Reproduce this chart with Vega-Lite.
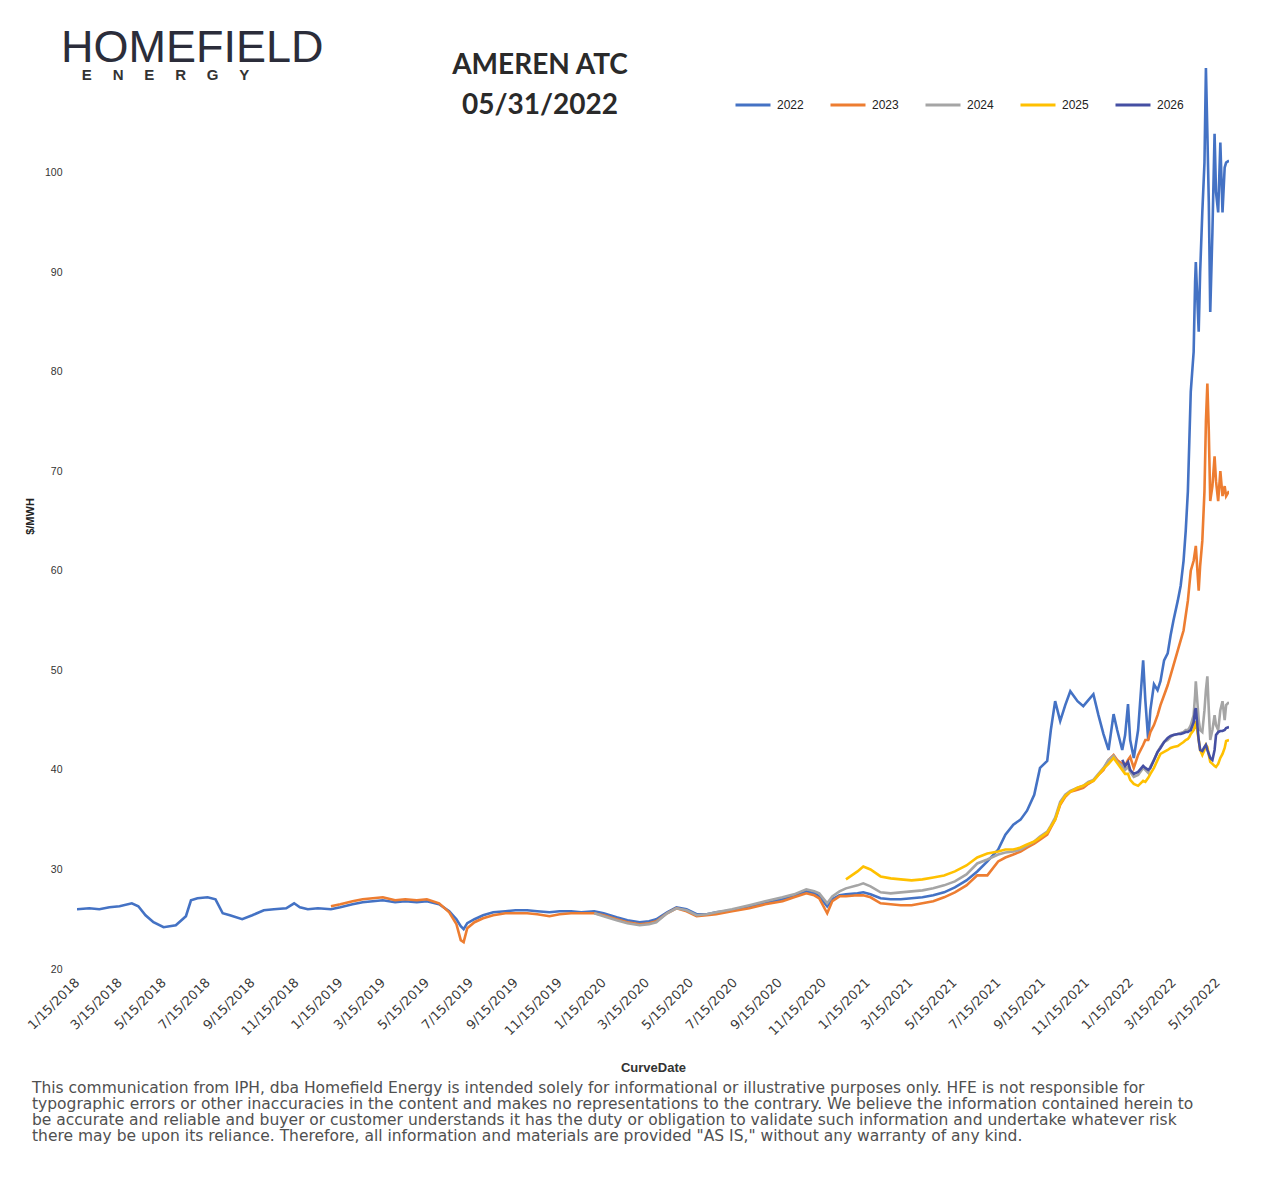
{
  "$schema": "https://vega.github.io/schema/vega-lite/v6.json",
  "padding": {"left": 24, "top": 26, "right": 10, "bottom": 10},
  "background": "white",
  "config": {"view": {"stroke": null}, "font": "Liberation Sans"},
  "title": {
    "text": "HOMEFIELD",
    "subtitle": "\u200b\u00a0\u00a0\u00a0\u00a0\u00a0E\u00a0\u00a0\u00a0\u00a0\u00a0N\u00a0\u00a0\u00a0\u00a0\u00a0E\u00a0\u00a0\u00a0\u00a0\u00a0R\u00a0\u00a0\u00a0\u00a0\u00a0G\u00a0\u00a0\u00a0\u00a0\u00a0Y",
    "anchor": "start",
    "frame": "group",
    "offset": -31.5,
    "fontSize": 45,
    "fontWeight": "normal",
    "font": "Liberation Sans",
    "color": "#2b2d3a",
    "subtitleFont": "Liberation Sans",
    "subtitleFontSize": 15,
    "subtitleFontWeight": "bold",
    "subtitleColor": "#333333",
    "subtitlePadding": -3,
    "dx": -16
  },
  "spacing": 5,
  "vconcat": [
    {
      "width": 1152,
      "height": 906,
      "title": {
        "text": ["AMEREN ATC", "05/31/2022"],
        "anchor": "middle",
        "frame": "group",
        "dx": -113,
        "offset": -78.5,
        "baseline": "alphabetic",
        "lineHeight": 40,
        "fontSize": 28,
        "font": "Lato",
        "fontWeight": "bold",
        "color": "#2a2a2a"
      },
      "data": {
        "values": [
          {"d": "2018/01/15", "2022": 26.0},
          {"d": "2018/02/01", "2022": 26.1},
          {"d": "2018/02/15", "2022": 26.0},
          {"d": "2018/03/01", "2022": 26.2},
          {"d": "2018/03/15", "2022": 26.3},
          {"d": "2018/04/01", "2022": 26.6},
          {"d": "2018/04/10", "2022": 26.3},
          {"d": "2018/04/20", "2022": 25.4},
          {"d": "2018/05/01", "2022": 24.7},
          {"d": "2018/05/15", "2022": 24.2},
          {"d": "2018/06/01", "2022": 24.4},
          {"d": "2018/06/15", "2022": 25.3},
          {"d": "2018/06/22", "2022": 26.9},
          {"d": "2018/07/01", "2022": 27.1},
          {"d": "2018/07/15", "2022": 27.2},
          {"d": "2018/07/26", "2022": 27.0},
          {"d": "2018/08/05", "2022": 25.6},
          {"d": "2018/08/15", "2022": 25.4},
          {"d": "2018/09/01", "2022": 25.0},
          {"d": "2018/09/15", "2022": 25.4},
          {"d": "2018/10/01", "2022": 25.9},
          {"d": "2018/10/15", "2022": 26.0},
          {"d": "2018/11/01", "2022": 26.1},
          {"d": "2018/11/12", "2022": 26.6},
          {"d": "2018/11/20", "2022": 26.2},
          {"d": "2018/12/01", "2022": 26.0},
          {"d": "2018/12/15", "2022": 26.1},
          {"d": "2019/01/02", "2022": 26.0, "2023": 26.3},
          {"d": "2019/01/15", "2022": 26.2, "2023": 26.5},
          {"d": "2019/02/01", "2022": 26.5, "2023": 26.8},
          {"d": "2019/02/15", "2022": 26.7, "2023": 27.0},
          {"d": "2019/03/01", "2022": 26.8, "2023": 27.1},
          {"d": "2019/03/15", "2022": 26.9, "2023": 27.2},
          {"d": "2019/04/01", "2022": 26.7, "2023": 26.9},
          {"d": "2019/04/15", "2022": 26.8, "2023": 27.0},
          {"d": "2019/05/01", "2022": 26.7, "2023": 26.9},
          {"d": "2019/05/15", "2022": 26.8, "2023": 27.0},
          {"d": "2019/06/01", "2022": 26.5, "2023": 26.6},
          {"d": "2019/06/15", "2022": 25.8, "2023": 25.7},
          {"d": "2019/06/25", "2022": 25.0, "2023": 24.5},
          {"d": "2019/07/01", "2022": 24.3, "2023": 22.9},
          {"d": "2019/07/05", "2022": 24.0, "2023": 22.7},
          {"d": "2019/07/10", "2022": 24.6, "2023": 24.1},
          {"d": "2019/07/20", "2022": 25.0, "2023": 24.7},
          {"d": "2019/08/01", "2022": 25.4, "2023": 25.1},
          {"d": "2019/08/15", "2022": 25.7, "2023": 25.4},
          {"d": "2019/09/01", "2022": 25.8, "2023": 25.6},
          {"d": "2019/09/15", "2022": 25.9, "2023": 25.6},
          {"d": "2019/10/01", "2022": 25.9, "2023": 25.6},
          {"d": "2019/10/15", "2022": 25.8, "2023": 25.5},
          {"d": "2019/11/01", "2022": 25.7, "2023": 25.3},
          {"d": "2019/11/15", "2022": 25.8, "2023": 25.5},
          {"d": "2019/12/01", "2022": 25.8, "2023": 25.6},
          {"d": "2019/12/15", "2022": 25.7, "2023": 25.6},
          {"d": "2020/01/02", "2022": 25.8, "2023": 25.6, "2024": 25.6},
          {"d": "2020/01/15", "2022": 25.6, "2023": 25.4, "2024": 25.3},
          {"d": "2020/02/02", "2022": 25.2, "2023": 25.0, "2024": 24.9},
          {"d": "2020/02/17", "2022": 24.9, "2023": 24.7, "2024": 24.6},
          {"d": "2020/03/05", "2022": 24.7, "2023": 24.5, "2024": 24.4},
          {"d": "2020/03/18", "2022": 24.8, "2023": 24.6, "2024": 24.5},
          {"d": "2020/03/28", "2022": 25.0, "2023": 24.8, "2024": 24.7},
          {"d": "2020/04/12", "2022": 25.7, "2023": 25.6, "2024": 25.6},
          {"d": "2020/04/25", "2022": 26.2, "2023": 26.1, "2024": 26.1},
          {"d": "2020/05/09", "2022": 26.0, "2023": 25.8, "2024": 25.9},
          {"d": "2020/05/23", "2022": 25.5, "2023": 25.3, "2024": 25.4},
          {"d": "2020/06/06", "2022": 25.5, "2023": 25.4, "2024": 25.5},
          {"d": "2020/06/19", "2022": 25.7, "2023": 25.5, "2024": 25.7},
          {"d": "2020/07/11", "2022": 25.9, "2023": 25.8, "2024": 26.0},
          {"d": "2020/08/04", "2022": 26.3, "2023": 26.1, "2024": 26.4},
          {"d": "2020/08/26", "2022": 26.6, "2023": 26.5, "2024": 26.8},
          {"d": "2020/09/19", "2022": 27.0, "2023": 26.8, "2024": 27.2},
          {"d": "2020/10/05", "2022": 27.3, "2023": 27.2, "2024": 27.5},
          {"d": "2020/10/22", "2022": 27.8, "2023": 27.6, "2024": 28.0},
          {"d": "2020/11/02", "2022": 27.6, "2023": 27.4, "2024": 27.8},
          {"d": "2020/11/09", "2022": 27.3, "2023": 27.1, "2024": 27.6},
          {"d": "2020/11/20", "2022": 26.3, "2023": 25.6, "2024": 26.6},
          {"d": "2020/11/27", "2022": 27.0, "2023": 26.8, "2024": 27.3},
          {"d": "2020/12/07", "2022": 27.4, "2023": 27.3, "2024": 27.8},
          {"d": "2020/12/16", "2022": 27.5, "2023": 27.3, "2024": 28.1, "2025": 29.0},
          {"d": "2021/01/01", "2022": 27.6, "2023": 27.4, "2024": 28.4, "2025": 29.8},
          {"d": "2021/01/09", "2022": 27.7, "2023": 27.4, "2024": 28.6, "2025": 30.3},
          {"d": "2021/01/19", "2022": 27.5, "2023": 27.2, "2024": 28.3, "2025": 30.0},
          {"d": "2021/02/02", "2022": 27.1, "2023": 26.6, "2024": 27.7, "2025": 29.3},
          {"d": "2021/02/16", "2022": 27.0, "2023": 26.5, "2024": 27.6, "2025": 29.1},
          {"d": "2021/03/02", "2022": 27.0, "2023": 26.4, "2024": 27.7, "2025": 29.0},
          {"d": "2021/03/17", "2022": 27.1, "2023": 26.4, "2024": 27.8, "2025": 28.9},
          {"d": "2021/04/01", "2022": 27.2, "2023": 26.6, "2024": 27.9, "2025": 29.0},
          {"d": "2021/04/16", "2022": 27.4, "2023": 26.8, "2024": 28.1, "2025": 29.2},
          {"d": "2021/05/01", "2022": 27.7, "2023": 27.2, "2024": 28.4, "2025": 29.4},
          {"d": "2021/05/16", "2022": 28.2, "2023": 27.7, "2024": 28.8, "2025": 29.8},
          {"d": "2021/06/01", "2022": 28.9, "2023": 28.4, "2024": 29.5, "2025": 30.4},
          {"d": "2021/06/16", "2022": 29.8, "2023": 29.4, "2024": 30.6, "2025": 31.2},
          {"d": "2021/06/30", "2022": 30.8, "2023": 29.4, "2024": 31.0, "2025": 31.6},
          {"d": "2021/07/15", "2022": 32.0, "2023": 30.8, "2024": 31.5, "2025": 31.8},
          {"d": "2021/07/25", "2022": 33.5, "2023": 31.2, "2024": 31.7, "2025": 32.0},
          {"d": "2021/08/05", "2022": 34.5, "2023": 31.5, "2024": 31.8, "2025": 32.0},
          {"d": "2021/08/15", "2022": 35.0, "2023": 31.8, "2024": 32.0, "2025": 32.2},
          {"d": "2021/08/24", "2022": 35.9, "2023": 32.2, "2024": 32.4, "2025": 32.5},
          {"d": "2021/09/03", "2022": 37.5, "2023": 32.6, "2024": 32.8, "2025": 32.8},
          {"d": "2021/09/11", "2022": 40.2, "2023": 33.0, "2024": 33.3, "2025": 33.2},
          {"d": "2021/09/21", "2022": 40.9, "2023": 33.5, "2024": 33.8, "2025": 33.7},
          {"d": "2021/09/26", "2022": 44.0, "2023": 34.2, "2024": 34.4, "2025": 34.3},
          {"d": "2021/10/02", "2022": 46.9, "2023": 35.0, "2024": 35.2, "2025": 35.0},
          {"d": "2021/10/09", "2022": 44.9, "2023": 36.5, "2024": 36.8, "2025": 36.6},
          {"d": "2021/10/16", "2022": 46.5, "2023": 37.3, "2024": 37.5, "2025": 37.4},
          {"d": "2021/10/23", "2022": 47.9, "2023": 37.8, "2024": 37.9, "2025": 37.8},
          {"d": "2021/11/02", "2022": 46.9, "2023": 38.0, "2024": 38.2, "2025": 38.2},
          {"d": "2021/11/10", "2022": 46.4, "2023": 38.2, "2024": 38.4, "2025": 38.4},
          {"d": "2021/11/17", "2022": 47.0, "2023": 38.6, "2024": 38.8, "2025": 38.7},
          {"d": "2021/11/24", "2022": 47.6, "2023": 38.9, "2024": 39.0, "2025": 38.9},
          {"d": "2021/12/01", "2022": 45.5, "2023": 39.5, "2024": 39.6, "2025": 39.5},
          {"d": "2021/12/08", "2022": 43.6, "2023": 40.0, "2024": 40.2, "2025": 40.1},
          {"d": "2021/12/15", "2022": 42.0, "2023": 41.0, "2024": 41.0, "2025": 40.6},
          {"d": "2021/12/22", "2022": 45.6, "2023": 41.5, "2024": 41.4, "2025": 41.2},
          {"d": "2021/12/27", "2022": 44.0, "2023": 41.0, "2024": 40.8, "2025": 40.7},
          {"d": "2022/01/03", "2022": 42.0, "2023": 40.6, "2024": 40.4, "2025": 40.0, "2026": 41.0},
          {"d": "2022/01/07", "2022": 43.5, "2023": 40.4, "2024": 40.0, "2025": 39.6, "2026": 40.4},
          {"d": "2022/01/11", "2022": 46.6, "2023": 41.0, "2024": 40.3, "2025": 39.6, "2026": 40.8},
          {"d": "2022/01/14", "2022": 43.0, "2023": 41.3, "2024": 39.8, "2025": 39.0, "2026": 40.0},
          {"d": "2022/01/19", "2022": 41.2, "2023": 40.2, "2024": 39.3, "2025": 38.6, "2026": 39.6},
          {"d": "2022/01/25", "2022": 44.0, "2023": 41.5, "2024": 39.5, "2025": 38.4, "2026": 39.8},
          {"d": "2022/02/01", "2022": 51.0, "2023": 42.5, "2024": 40.2, "2025": 38.9, "2026": 40.4},
          {"d": "2022/02/04", "2022": 47.0, "2023": 43.0, "2024": 40.0, "2025": 38.8, "2026": 40.2},
          {"d": "2022/02/08", "2022": 43.0, "2023": 43.0, "2024": 39.7, "2025": 39.2, "2026": 40.0},
          {"d": "2022/02/11", "2022": 46.0, "2023": 43.8, "2024": 40.3, "2025": 39.6, "2026": 40.2},
          {"d": "2022/02/16", "2022": 48.6, "2023": 44.5, "2024": 41.0, "2025": 40.2, "2026": 41.0},
          {"d": "2022/02/21", "2022": 48.0, "2023": 45.5, "2024": 41.8, "2025": 41.0, "2026": 41.8},
          {"d": "2022/02/25", "2022": 48.9, "2023": 46.5, "2024": 42.3, "2025": 41.6, "2026": 42.2},
          {"d": "2022/03/02", "2022": 51.0, "2023": 47.5, "2024": 42.8, "2025": 41.8, "2026": 42.8},
          {"d": "2022/03/07", "2022": 51.7, "2023": 48.5, "2024": 43.0, "2025": 42.0, "2026": 43.2},
          {"d": "2022/03/11", "2022": 53.5, "2023": 49.5, "2024": 43.3, "2025": 42.2, "2026": 43.4},
          {"d": "2022/03/15", "2022": 55.0, "2023": 50.5, "2024": 43.5, "2025": 42.3, "2026": 43.5},
          {"d": "2022/03/21", "2022": 57.0, "2023": 52.0, "2024": 43.6, "2025": 42.4, "2026": 43.6},
          {"d": "2022/03/25", "2022": 58.5, "2023": 53.0, "2024": 43.7, "2025": 42.6, "2026": 43.6},
          {"d": "2022/03/29", "2022": 61.0, "2023": 54.0, "2024": 43.8, "2025": 42.8, "2026": 43.7},
          {"d": "2022/04/01", "2022": 64.0, "2023": 55.5, "2024": 44.0, "2025": 43.0, "2026": 43.8},
          {"d": "2022/04/04", "2022": 68.0, "2023": 57.0, "2024": 44.0, "2025": 43.1, "2026": 43.8},
          {"d": "2022/04/06", "2022": 73.0, "2023": 58.5, "2024": 44.2, "2025": 43.3, "2026": 43.9},
          {"d": "2022/04/08", "2022": 78.0, "2023": 60.0, "2024": 44.5, "2025": 43.6, "2026": 44.0},
          {"d": "2022/04/12", "2022": 82.0, "2023": 61.0, "2024": 45.5, "2025": 44.0, "2026": 44.8},
          {"d": "2022/04/14", "2022": 89.0, "2023": 62.0, "2024": 47.5, "2025": 44.5, "2026": 46.0},
          {"d": "2022/04/15", "2022": 91.0, "2023": 62.5, "2024": 48.9, "2025": 44.9, "2026": 46.2},
          {"d": "2022/04/19", "2022": 84.0, "2023": 58.0, "2024": 45.0, "2025": 43.0, "2026": 43.0},
          {"d": "2022/04/21", "2022": 90.0, "2023": 60.5, "2024": 44.0, "2025": 42.0, "2026": 42.0},
          {"d": "2022/04/24", "2022": 96.0, "2023": 63.0, "2024": 43.8, "2025": 41.5, "2026": 41.9},
          {"d": "2022/04/27", "2022": 101.0, "2023": 68.0, "2024": 46.0, "2025": 42.0, "2026": 42.3},
          {"d": "2022/04/29", "2022": 110.5, "2023": 75.0, "2024": 48.0, "2025": 42.5, "2026": 42.5},
          {"d": "2022/05/01", "2022": 104.0, "2023": 78.8, "2024": 49.4, "2025": 42.3, "2026": 42.0},
          {"d": "2022/05/03", "2022": 97.0, "2023": 74.0, "2024": 46.0, "2025": 41.5, "2026": 41.6},
          {"d": "2022/05/05", "2022": 86.0, "2023": 67.0, "2024": 43.0, "2025": 40.8, "2026": 41.2},
          {"d": "2022/05/08", "2022": 94.0, "2023": 68.5, "2024": 44.0, "2025": 40.6, "2026": 41.0},
          {"d": "2022/05/11", "2022": 103.9, "2023": 71.5, "2024": 45.5, "2025": 40.4, "2026": 42.0},
          {"d": "2022/05/13", "2022": 98.0, "2023": 69.0, "2024": 44.5, "2025": 40.3, "2026": 43.5},
          {"d": "2022/05/16", "2022": 96.0, "2023": 67.0, "2024": 44.0, "2025": 40.6, "2026": 43.8},
          {"d": "2022/05/19", "2022": 103.0, "2023": 70.0, "2024": 46.0, "2025": 41.2, "2026": 43.9},
          {"d": "2022/05/22", "2022": 96.0, "2023": 67.5, "2024": 46.9, "2025": 41.6, "2026": 43.9},
          {"d": "2022/05/25", "2022": 100.5, "2023": 68.5, "2024": 45.0, "2025": 42.2, "2026": 44.0},
          {"d": "2022/05/27", "2022": 101.0, "2023": 67.5, "2024": 46.5, "2025": 42.9, "2026": 44.2},
          {"d": "2022/05/31", "2022": 101.2, "2023": 68.0, "2024": 46.8, "2025": 43.0, "2026": 44.3}
        ]
      },
      "transform": [
        {"fold": ["2022", "2023", "2024", "2025", "2026"], "as": ["series", "price"]},
        {"filter": "isValid(datum.price)"}
      ],
      "mark": {"type": "line", "strokeWidth": 2.6, "clip": true},
      "encoding": {
        "x": {
          "field": "d",
          "type": "temporal",
          "title": "CurveDate",
          "scale": {"domain": [{"year": 2018, "month": 1, "date": 15}, {"year": 2022, "month": 5, "date": 31}]},
          "axis": {
            "values": [
              {"year": 2018, "month": 1, "date": 15}, {"year": 2018, "month": 3, "date": 15}, {"year": 2018, "month": 5, "date": 15},
              {"year": 2018, "month": 7, "date": 15}, {"year": 2018, "month": 9, "date": 15}, {"year": 2018, "month": 11, "date": 15},
              {"year": 2019, "month": 1, "date": 15}, {"year": 2019, "month": 3, "date": 15}, {"year": 2019, "month": 5, "date": 15},
              {"year": 2019, "month": 7, "date": 15}, {"year": 2019, "month": 9, "date": 15}, {"year": 2019, "month": 11, "date": 15},
              {"year": 2020, "month": 1, "date": 15}, {"year": 2020, "month": 3, "date": 15}, {"year": 2020, "month": 5, "date": 15},
              {"year": 2020, "month": 7, "date": 15}, {"year": 2020, "month": 9, "date": 15}, {"year": 2020, "month": 11, "date": 15},
              {"year": 2021, "month": 1, "date": 15}, {"year": 2021, "month": 3, "date": 15}, {"year": 2021, "month": 5, "date": 15},
              {"year": 2021, "month": 7, "date": 15}, {"year": 2021, "month": 9, "date": 15}, {"year": 2021, "month": 11, "date": 15},
              {"year": 2022, "month": 1, "date": 15}, {"year": 2022, "month": 3, "date": 15}, {"year": 2022, "month": 5, "date": 15}
            ],
            "format": "%-m/%-d/%Y",
            "labelAngle": -45,
            "labelAlign": "right",
            "labelBaseline": "middle",
            "labelPadding": 11,
            "labelFont": "DejaVu Sans",
            "labelFontSize": 13,
            "labelColor": "#3a3a3a",
            "labelOverlap": false,
            "labelFlush": false,
            "labelBound": false,
            "ticks": false,
            "domain": false,
            "grid": false,
            "titleFontSize": 13,
            "titleFontWeight": "bold",
            "titleColor": "#333333",
            "titlePadding": 24
          }
        },
        "y": {
          "field": "price",
          "type": "quantitative",
          "title": "$/MWH",
          "scale": {"domain": [20, 111], "nice": false, "zero": false},
          "axis": {
            "values": [20, 30, 40, 50, 60, 70, 80, 90, 100],
            "ticks": false,
            "domain": false,
            "grid": false,
            "labelFontSize": 10.5,
            "labelColor": "#333333",
            "labelPadding": 15,
            "titleFontSize": 11,
            "titleFontWeight": "bold",
            "titleColor": "#222222",
            "titlePadding": 9
          }
        },
        "color": {
          "field": "series",
          "type": "nominal",
          "scale": {"domain": ["2022", "2023", "2024", "2025", "2026"], "range": ["#4472C4", "#ED7D31", "#A5A5A5", "#FFC000", "#454FA3"]},
          "legend": {
            "orient": "none",
            "legendX": 657,
            "legendY": 23,
            "direction": "horizontal",
            "title": null,
            "symbolType": "stroke",
            "symbolSize": 1225,
            "symbolStrokeWidth": 3,
            "labelFontSize": 12,
            "labelColor": "#222222",
            "labelOffset": 5,
            "columnPadding": 20,
            "padding": 0
          }
        }
      }
    },
    {
      "width": 1152,
      "height": 64,
      "data": {
        "values": [
          {"n": 1, "t": "This communication from IPH, dba Homefield Energy is intended solely for informational or illustrative purposes only. HFE is not responsible for"},
          {"n": 2, "t": "typographic errors or other inaccuracies in the content and makes no representations to the contrary. We believe the information contained herein to"},
          {"n": 3, "t": "be accurate and reliable and buyer or customer understands it has the duty or obligation to validate such information and undertake whatever risk"},
          {"n": 4, "t": "there may be upon its reliance. Therefore, all information and materials are provided \"AS IS,\" without any warranty of any kind."}
        ]
      },
      "mark": {"type": "text", "align": "left", "baseline": "middle", "font": "DejaVu Sans", "fontSize": 15.5, "color": "#505050", "dx": -621},
      "encoding": {
        "y": {"field": "n", "type": "ordinal", "axis": null, "scale": {"type": "point", "padding": 0.5}},
        "text": {"field": "t"}
      }
    }
  ]
}
